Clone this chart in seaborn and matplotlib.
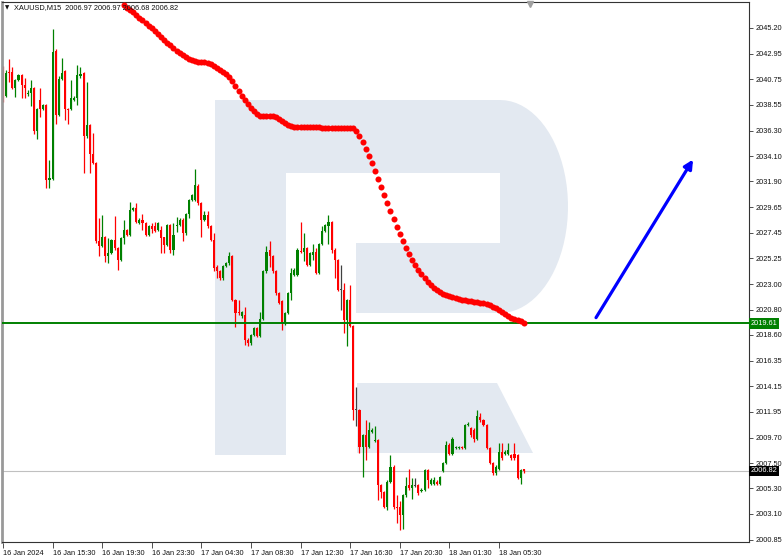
import numpy as np
import pandas as pd
import matplotlib
matplotlib.use("Agg")
import matplotlib.pyplot as plt
from matplotlib.patches import Polygon, Rectangle
import seaborn as sns

# ---- data (XAUUSD M15 bars) ----
opens = [
    2041.8, 2039.3, 2041.4, 2041.4, 2040.0, 2040.7, 2041.1, 2040.3, 2039.5, 2039.6,
    2040.0, 2036.3, 2039.0, 2038.2, 2038.5, 2032.0, 2032.1, 2043.2, 2037.7, 2040.8,
    2041.5, 2038.2, 2038.2, 2039.0, 2039.1, 2041.0, 2041.3, 2035.8, 2036.8, 2034.3,
    2033.5, 2026.7, 2026.3, 2027.1, 2025.4, 2025.7, 2026.8, 2026.1, 2025.1, 2027.0,
    2027.7, 2027.3, 2029.4, 2029.6, 2028.3, 2028.6, 2028.3, 2027.3, 2028.0, 2028.0,
    2027.7, 2027.7, 2027.1, 2026.4, 2028.1, 2026.0, 2028.0, 2028.1, 2028.6, 2027.4,
    2029.1, 2030.3, 2030.3, 2031.5, 2030.0, 2028.6, 2029.0, 2028.0, 2026.8, 2024.5,
    2024.1, 2023.5, 2024.6, 2024.8, 2025.4, 2021.6, 2020.6, 2020.2, 2020.3, 2018.2,
    2017.9, 2018.6, 2019.2, 2018.5, 2020.0, 2024.1, 2026.0, 2025.4, 2024.1, 2022.2,
    2021.5, 2019.6, 2020.5, 2022.2, 2023.8, 2023.8, 2025.9, 2025.8, 2026.1, 2024.7,
    2025.5, 2025.8, 2024.0, 2026.5, 2027.6, 2028.0, 2028.4, 2026.0, 2025.1, 2022.5,
    2022.5, 2019.9, 2021.6, 2019.4, 2012.1, 2012.1, 2008.9, 2009.9, 2008.9, 2010.2,
    2009.4, 2009.5, 2005.6, 2005.0, 2003.7, 2005.9, 2007.2, 2003.7, 2003.7, 2003.0,
    2004.7, 2005.6, 2005.3, 2005.5, 2005.6, 2005.1, 2005.2, 2006.9, 2005.7, 2005.7,
    2005.9, 2005.7, 2006.8, 2007.5, 2009.1, 2008.3, 2008.8, 2008.8, 2008.9, 2008.8,
    2010.8, 2010.5, 2010.4, 2009.6, 2011.5, 2011.2, 2010.8, 2008.8, 2007.5, 2006.6,
    2007.0, 2008.5, 2008.3, 2008.3, 2008.2, 2008.3, 2008.2, 2006.2, 2006.97,
]
highs = [
    2041.9, 2041.6, 2042.5, 2041.8, 2040.8, 2041.2, 2041.2, 2040.9, 2039.8, 2040.7,
    2040.1, 2038.3, 2040.0, 2038.6, 2038.6, 2033.8, 2045.1, 2043.4, 2041.0, 2042.6,
    2041.6, 2038.3, 2040.7, 2039.3, 2042.0, 2041.8, 2041.4, 2040.5, 2036.9, 2036.1,
    2033.6, 2028.7, 2029.0, 2027.2, 2027.0, 2026.9, 2028.9, 2026.2, 2027.1, 2028.6,
    2027.8, 2030.1, 2029.7, 2030.0, 2028.7, 2029.1, 2028.4, 2028.1, 2028.3, 2028.4,
    2028.4, 2028.0, 2027.1, 2028.2, 2028.2, 2028.3, 2028.8, 2028.7, 2028.7, 2029.2,
    2030.4, 2030.8, 2033.0, 2031.7, 2030.1, 2029.3, 2029.3, 2028.1, 2027.4, 2024.7,
    2024.2, 2024.7, 2024.9, 2025.8, 2025.5, 2021.7, 2021.6, 2020.7, 2021.0, 2018.3,
    2018.7, 2019.3, 2019.3, 2020.6, 2024.2, 2026.3, 2026.7, 2025.5, 2024.2, 2022.3,
    2021.6, 2020.6, 2022.3, 2024.4, 2024.4, 2026.1, 2028.4, 2027.4, 2026.2, 2025.8,
    2026.5, 2026.1, 2026.6, 2028.0, 2028.2, 2029.0, 2028.5, 2026.1, 2025.2, 2024.7,
    2023.1, 2021.7, 2022.9, 2019.5, 2014.1, 2012.2, 2010.0, 2011.2, 2011.1, 2010.5,
    2010.7, 2009.6, 2005.7, 2005.1, 2006.0, 2008.2, 2007.3, 2004.7, 2004.2, 2004.8,
    2006.3, 2007.0, 2006.2, 2006.2, 2005.7, 2005.3, 2007.0, 2007.0, 2006.2, 2006.3,
    2006.0, 2006.4, 2007.6, 2009.4, 2009.2, 2009.8, 2009.0, 2009.0, 2009.0, 2010.9,
    2011.1, 2010.6, 2010.5, 2012.1, 2011.8, 2011.3, 2010.9, 2008.9, 2007.6, 2007.3,
    2009.2, 2009.2, 2008.6, 2009.2, 2008.3, 2009.2, 2008.3, 2007.0, 2006.97,
]
lows = [
    2038.8, 2039.2, 2040.5, 2039.9, 2039.2, 2040.6, 2039.1, 2039.1, 2039.3, 2038.4,
    2036.0, 2035.6, 2037.5, 2038.1, 2031.3, 2031.3, 2032.0, 2036.9, 2037.6, 2040.7,
    2037.2, 2036.9, 2038.1, 2038.9, 2038.5, 2040.9, 2032.6, 2035.7, 2032.6, 2033.4,
    2026.6, 2025.4, 2026.2, 2024.9, 2024.8, 2025.6, 2026.0, 2024.2, 2025.0, 2026.5,
    2027.2, 2027.2, 2029.3, 2028.3, 2028.2, 2027.7, 2027.2, 2027.2, 2027.4, 2027.5,
    2027.6, 2025.7, 2025.7, 2026.3, 2025.7, 2025.5, 2027.5, 2028.0, 2026.7, 2027.3,
    2028.7, 2030.2, 2030.2, 2029.9, 2027.1, 2028.5, 2027.9, 2026.7, 2024.1, 2023.5,
    2023.4, 2023.4, 2024.5, 2024.7, 2021.5, 2019.3, 2020.3, 2020.1, 2017.7, 2017.6,
    2017.7, 2018.5, 2018.4, 2018.4, 2019.9, 2024.0, 2024.5, 2024.0, 2022.1, 2021.3,
    2019.0, 2019.5, 2020.4, 2021.6, 2023.7, 2023.7, 2025.7, 2025.0, 2024.6, 2024.6,
    2025.1, 2023.9, 2023.9, 2026.4, 2027.5, 2026.5, 2025.7, 2023.5, 2022.4, 2020.8,
    2018.8, 2017.6, 2019.3, 2011.2, 2010.7, 2008.4, 2006.3, 2007.8, 2008.8, 2010.1,
    2009.3, 2004.3, 2004.5, 2003.6, 2003.4, 2005.8, 2003.5, 2002.3, 2001.7, 2001.8,
    2004.6, 2005.2, 2004.4, 2005.4, 2004.7, 2005.0, 2005.1, 2005.3, 2005.6, 2005.6,
    2005.6, 2005.6, 2006.7, 2007.4, 2008.2, 2008.2, 2008.7, 2008.7, 2008.7, 2008.7,
    2010.7, 2009.8, 2009.3, 2009.5, 2011.1, 2010.7, 2008.7, 2007.4, 2006.5, 2006.5,
    2006.9, 2007.8, 2008.2, 2008.2, 2007.8, 2007.8, 2006.1, 2005.7, 2006.68,
]
closes = [
    2039.3, 2041.3, 2041.3, 2040.0, 2040.7, 2041.1, 2040.3, 2040.0, 2039.6, 2040.0,
    2036.3, 2038.2, 2038.2, 2038.5, 2032.0, 2032.2, 2043.1, 2037.7, 2040.8, 2041.3,
    2038.2, 2038.1, 2039.1, 2039.1, 2041.1, 2041.2, 2035.8, 2036.8, 2034.3, 2033.5,
    2026.7, 2026.3, 2027.1, 2025.4, 2025.7, 2026.8, 2026.1, 2025.1, 2027.0, 2027.7,
    2027.3, 2029.4, 2029.6, 2028.4, 2028.6, 2028.3, 2027.3, 2028.0, 2027.8, 2027.6,
    2028.3, 2027.0, 2026.4, 2028.1, 2026.0, 2027.3, 2028.1, 2028.6, 2027.4, 2029.1,
    2030.3, 2030.7, 2031.6, 2030.0, 2028.6, 2029.0, 2028.0, 2026.8, 2024.4, 2024.1,
    2023.5, 2024.6, 2024.8, 2025.4, 2021.6, 2020.5, 2020.5, 2020.6, 2018.2, 2017.9,
    2018.6, 2019.2, 2018.5, 2020.0, 2024.1, 2025.8, 2025.4, 2024.1, 2022.2, 2021.4,
    2019.6, 2020.5, 2022.2, 2024.0, 2024.2, 2026.0, 2025.8, 2026.1, 2024.7, 2025.7,
    2025.8, 2024.0, 2026.5, 2027.6, 2028.1, 2028.4, 2026.0, 2025.1, 2022.5, 2022.5,
    2019.9, 2021.6, 2019.4, 2012.1, 2012.1, 2008.9, 2009.9, 2008.9, 2010.4, 2010.4,
    2009.5, 2005.6, 2005.0, 2003.7, 2005.9, 2007.2, 2003.7, 2003.6, 2003.0, 2004.7,
    2005.5, 2005.3, 2005.6, 2005.5, 2004.9, 2005.2, 2006.9, 2006.0, 2006.0, 2006.0,
    2005.7, 2006.3, 2007.5, 2009.1, 2008.3, 2009.6, 2008.9, 2008.9, 2008.8, 2010.8,
    2010.9, 2009.9, 2009.6, 2011.6, 2011.2, 2010.8, 2008.8, 2007.5, 2006.6, 2007.2,
    2008.5, 2007.9, 2008.5, 2008.6, 2007.9, 2007.9, 2006.2, 2006.9, 2006.82,
]

# moving average (red dots), starts at bar index 39
ma_first_bar = 39
ma_values = [
    2047.19, 2046.93, 2046.76, 2046.59, 2046.33, 2046.07, 2045.89, 2045.63, 2045.37, 2045.20,
    2044.94, 2044.68, 2044.42, 2044.16, 2043.90, 2043.73, 2043.47, 2043.21, 2043.03, 2042.86,
    2042.69, 2042.51, 2042.43, 2042.34, 2042.25, 2042.25, 2042.25, 2042.17, 2042.08, 2041.91,
    2041.73, 2041.56, 2041.39, 2041.21, 2040.95, 2040.61, 2040.17, 2039.74, 2039.31, 2038.96,
    2038.61, 2038.27, 2038.01, 2037.75, 2037.57, 2037.57, 2037.57, 2037.57, 2037.57, 2037.49,
    2037.31, 2037.14, 2036.97, 2036.79, 2036.71, 2036.62, 2036.62, 2036.61, 2036.60, 2036.60,
    2036.59, 2036.59, 2036.58, 2036.58, 2036.57, 2036.57, 2036.56, 2036.56, 2036.55, 2036.55,
    2036.54, 2036.54, 2036.53, 2036.53, 2036.53, 2036.27, 2035.84, 2035.32, 2034.71, 2034.11,
    2033.50, 2032.81, 2032.12, 2031.42, 2030.73, 2030.04, 2029.34, 2028.65, 2027.96, 2027.35,
    2026.74, 2026.14, 2025.62, 2025.10, 2024.66, 2024.23, 2023.88, 2023.54, 2023.19, 2022.93,
    2022.67, 2022.50, 2022.32, 2022.15, 2022.06, 2021.98, 2021.89, 2021.80, 2021.72, 2021.63,
    2021.63, 2021.54, 2021.54, 2021.46, 2021.46, 2021.37, 2021.37, 2021.28, 2021.20, 2021.03,
    2020.94, 2020.77, 2020.59, 2020.42, 2020.24, 2020.07, 2019.98, 2019.90, 2019.81, 2019.64,
]

support_level = 2019.61
last_price = 2006.82
header = "XAUUSD,M15  2006.97 2006.97 2006.68 2006.82"

price_ticks = [2045.20, 2042.95, 2040.75, 2038.55, 2036.30, 2034.10, 2031.90, 2029.65,
               2027.45, 2025.25, 2023.00, 2020.80, 2018.60, 2016.35, 2014.15, 2011.95,
               2009.70, 2007.50, 2005.30, 2003.10, 2000.85]
time_tick_bars = [0, 16, 32, 48, 64, 80, 96, 112, 128, 144, 160]
time_tick_labels = ["16 Jan 2024", "16 Jan 15:30", "16 Jan 19:30", "16 Jan 23:30",
                    "17 Jan 04:30", "17 Jan 08:30", "17 Jan 12:30", "17 Jan 16:30",
                    "17 Jan 20:30", "18 Jan 01:30", "18 Jan 05:30"]

# forecast arrow (bar index, price)
arrow_from = (191.3, 2020.1)
arrow_to = (222.6, 2033.8)

df = pd.DataFrame({"open": opens, "high": highs, "low": lows, "close": closes})
df["bar"] = np.arange(len(df))
ma = pd.DataFrame({"bar": np.arange(ma_first_bar, ma_first_bar + len(ma_values)),
                   "ma": ma_values})

# ---- style ----
sns.set_theme(style="white")
plt.rcParams["font.family"] = ["Liberation Sans", "DejaVu Sans"]
FS = 5.3
BULL, BEAR, DOJI = "#008000", "#ff0000", "#404040"

W, H = 782, 558
fig = plt.figure(figsize=(W / 100, H / 100), dpi=100)
# axes box in pixels: x 2..749, y 2..542
ax = fig.add_axes([2 / W, 16 / H, 747 / W, 540 / H])
ax.set_xlim(-0.32, 240.65)
ax.set_ylim(2000.66, 2047.45)


def pxa(x, y):
    """pixel position -> axes fraction (for decorations only)"""
    return ((x - 2) / 747, (542 - y) / 540)


# ---- watermark logo ----
logo_col = "#e3e9f1"
t = np.linspace(np.pi / 2, -np.pi / 2, 40)
bowl = [pxa(500 + 68 * np.cos(a), 206.5 - 106.5 * np.sin(a)) for a in t]
upper = [pxa(286, 100)] + bowl + [pxa(356, 313), pxa(356, 243), pxa(500, 243),
                                  pxa(500, 173), pxa(286, 173)]
ax.add_patch(Polygon(upper, closed=True, transform=ax.transAxes, color=logo_col, lw=0, zorder=0.5))
x0, y0 = pxa(215, 455)
x1, y1 = pxa(286, 100)
ax.add_patch(Rectangle((x0, y0), x1 - x0, y1 - y0, transform=ax.transAxes, color=logo_col, lw=0, zorder=0.5))
leg = [pxa(357, 383), pxa(497, 383), pxa(533, 453), pxa(357, 453)]
ax.add_patch(Polygon(leg, closed=True, transform=ax.transAxes, color=logo_col, lw=0, zorder=0.5))

# ---- candles ----
cols = np.where(df["close"] > df["open"], BULL, np.where(df["close"] < df["open"], BEAR, DOJI))
ax.vlines(df["bar"], df["low"], df["high"], colors=cols, lw=0.9, zorder=2)
body_lo = np.minimum(df["open"], df["close"])
body_h = np.maximum((df["close"] - df["open"]).abs(), 0.07)
ax.bar(df["bar"], body_h, bottom=body_lo, width=0.7, color=cols, lw=0, zorder=2.1)

# ---- lines ----
ax.axhline(support_level, color="#008000", lw=1.4, zorder=3)
ax.axhline(last_price, color="#c0c0c0", lw=0.8, zorder=1)

# moving average dots
sns.scatterplot(data=ma, x="bar", y="ma", color="#ff0000", s=19, linewidth=0,
                ax=ax, zorder=4, legend=False)

# forecast arrow
ax.annotate("", xy=arrow_to, xytext=arrow_from,
            arrowprops=dict(arrowstyle="-|>", color="#0000ff", lw=2.3,
                            mutation_scale=13, shrinkA=0, shrinkB=0), zorder=5)

# ---- axes ----
ax.set_xlabel("")
ax.set_ylabel("")
ax.yaxis.tick_right()
ax.set_yticks(price_ticks)
ax.set_yticklabels([f"{v:.2f}" for v in price_ticks], fontsize=FS, color="#111111")
ax.set_xticks(time_tick_bars)
ax.set_xticklabels(time_tick_labels, fontsize=FS, color="#111111", ha="left")
ax.tick_params(axis="y", which="both", right=True, left=False, length=3, width=0.6,
               direction="out", pad=1.5, color="#333333")
ax.tick_params(axis="x", which="both", bottom=True, length=4, width=0.6,
               direction="out", pad=1.5, color="#333333")
ax.grid(False)
for side in ["top", "right", "bottom"]:
    ax.spines[side].set_color("#333333")
    ax.spines[side].set_linewidth(0.8)
ax.spines["left"].set_color("#999999")
ax.spines["left"].set_linewidth(2)

# price labels on the scale
ytr = ax.get_yaxis_transform()
ax.text(1.002, support_level, f"{support_level:.2f}", transform=ytr, fontsize=FS,
        color="white", ha="left", va="center", zorder=6,
        bbox=dict(boxstyle="square,pad=0.25", fc="#008000", ec="none"))
ax.text(1.002, last_price, f"{last_price:.2f}", transform=ytr, fontsize=FS,
        color="white", ha="left", va="center", zorder=6,
        bbox=dict(boxstyle="square,pad=0.25", fc="#000000", ec="none"))

# header
hx, hy = pxa(5, 8)
ax.text(hx, hy, "\u25bc", transform=ax.transAxes, fontsize=4, color="#111111",
        family=["DejaVu Sans"], va="center", ha="left", zorder=7)
hx, hy = pxa(14, 8)
ax.text(hx, hy, header, transform=ax.transAxes, fontsize=FS, color="#111111",
        va="center", ha="left", zorder=7)

# chart shift marker
mx, my = pxa(530, 4)
ax.plot([mx], [my], marker="v", color="#a0a0a0", ms=5, transform=ax.transAxes,
        clip_on=False, zorder=7)

fig.savefig("out.png", dpi=100, facecolor="white")
